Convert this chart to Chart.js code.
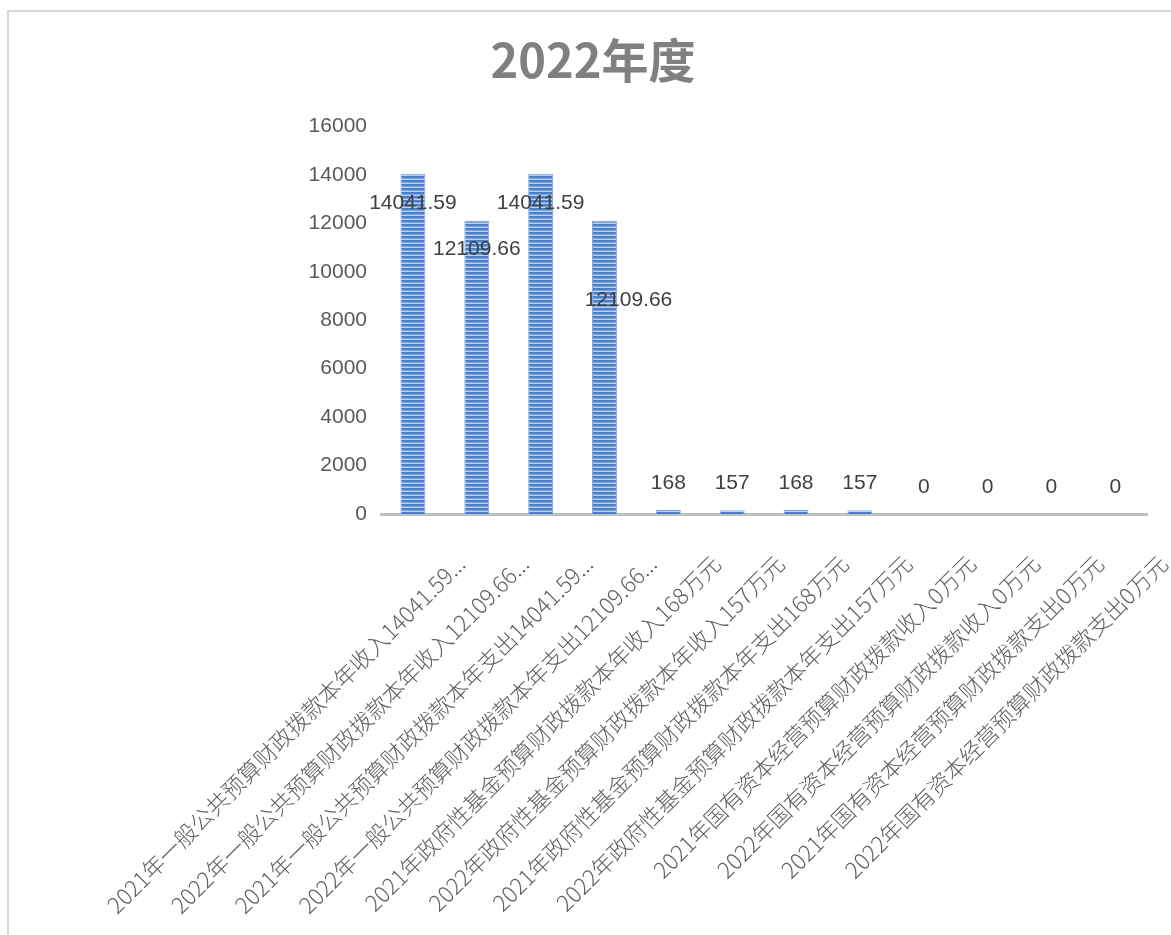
<!DOCTYPE html>
<html>
<head>
<meta charset="utf-8">
<script src="https://cdn.jsdelivr.net/npm/chart.js@4.4.1/dist/chart.umd.min.js"></script>
<style>
	html, body { margin: 0; padding: 0; background: #fff; }
	#frame { position: absolute; left: 7px; top: 10px; right: 0; bottom: 0; border-left: 2px solid #d9d9d9; border-top: 2px solid #d9d9d9; }
	#wrap { position: absolute; left: 0; top: 0; width: 1171px; height: 935px; }
</style>
</head>
<body>
<div id="frame"></div>
<div id="wrap"><canvas id="barChart"></canvas></div>
<script>
// data
const categories = [
	"2021年一般公共预算财政拨款本年收入14041.59...",
	"2022年一般公共预算财政拨款本年收入12109.66...",
	"2021年一般公共预算财政拨款本年支出14041.59...",
	"2022年一般公共预算财政拨款本年支出12109.66...",
	"2021年政府性基金预算财政拨款本年收入168万元",
	"2022年政府性基金预算财政拨款本年收入157万元",
	"2021年政府性基金预算财政拨款本年支出168万元",
	"2022年政府性基金预算财政拨款本年支出157万元",
	"2021年国有资本经营预算财政拨款收入0万元",
	"2022年国有资本经营预算财政拨款收入0万元",
	"2021年国有资本经营预算财政拨款支出0万元",
	"2022年国有资本经营预算财政拨款支出0万元",
];
const values = [14041.59, 12109.66, 14041.59, 12109.66, 168, 157, 168, 157, 0, 0, 0, 0];
const yTicks = [0, 2000, 4000, 6000, 8000, 10000, 12000, 14000, 16000];

// horizontal stripe fill like the Excel pattern
function stripes() {
	const c = document.createElement("canvas");
	c.width = 4;
	c.height = 4;
	const g = c.getContext("2d");
	const rows = ["#4d7fc6", "#4d7fc6", "#7ea5dc", "#b9d0f0"];
	rows.forEach((col, i) => {
		g.fillStyle = col;
		g.fillRect(0, i, 4, 1);
	});
	return g.createPattern(c, "repeat");
}

// value labels, placed the way the original sheet had them
const valueLabels = {
	id: "valueLabels",
	afterDatasetsDraw(chart) {
		const ctx = chart.ctx;
		const meta = chart.getDatasetMeta(0);
		ctx.save();
		ctx.font = "21px 'Liberation Sans', sans-serif";
		ctx.fillStyle = "#404040";
		ctx.textAlign = "center";
		ctx.textBaseline = "middle";
		meta.data.forEach((bar, i) => {
			const v = values[i];
			let x = bar.x;
			let y = v > 5000 ? bar.y + 29 : bar.y - 27;
			if (i === 3) {
				x += 24;
				y += 51;
			}
			ctx.fillText(String(v), x, y);
		});
		ctx.restore();
	},
};

const tickFont = { family: "'Liberation Sans', sans-serif", size: 21 };

new Chart(document.getElementById("barChart"), {
	type: "bar",
	data: {
		labels: categories,
		datasets: [
			{
				data: values,
				backgroundColor: stripes(),
				borderColor: "#7fa6dc",
				borderWidth: 1,
				barPercentage: 0.39,
				categoryPercentage: 1,
			},
		],
	},
	options: {
		responsive: true,
		maintainAspectRatio: false,
		animation: false,
		layout: { padding: { left: 28, right: 13, top: 0, bottom: 0 } },
		plugins: {
			legend: { display: false },
			tooltip: { enabled: false },
			title: {
				display: true,
				text: "2022年度",
				color: "#808080",
				font: { family: "'Noto Sans CJK SC', sans-serif", size: 47, weight: "bold", lineHeight: 1.2 },
				padding: { top: 32, bottom: 38 },
			},
		},
		scales: {
			x: {
				grid: { display: false, drawTicks: false },
				border: { display: true, color: "#bfbfbf", width: 3 },
				ticks: {
					autoSkip: false,
					minRotation: 45,
					maxRotation: 45,
					labelOffset: 48,
					padding: 36,
					color: "#606060",
					font: { family: "'Noto Sans CJK SC', sans-serif", size: 22.6, weight: 300 },
				},
				afterFit: (s) => {
					s.height = 421;
				},
			},
			y: {
				min: 0,
				max: 16000,
				grid: { display: false, drawTicks: false },
				border: { display: false },
				ticks: {
					padding: 14,
					color: "#595959",
					font: tickFont,
					callback: (v) => String(v),
				},
				afterBuildTicks: (s) => {
					s.ticks = yTicks.map((v) => ({ value: v }));
				},
				afterFit: (s) => {
					s.width = 353;
				},
			},
		},
	},
	plugins: [valueLabels],
});
</script>
</body>
</html>
